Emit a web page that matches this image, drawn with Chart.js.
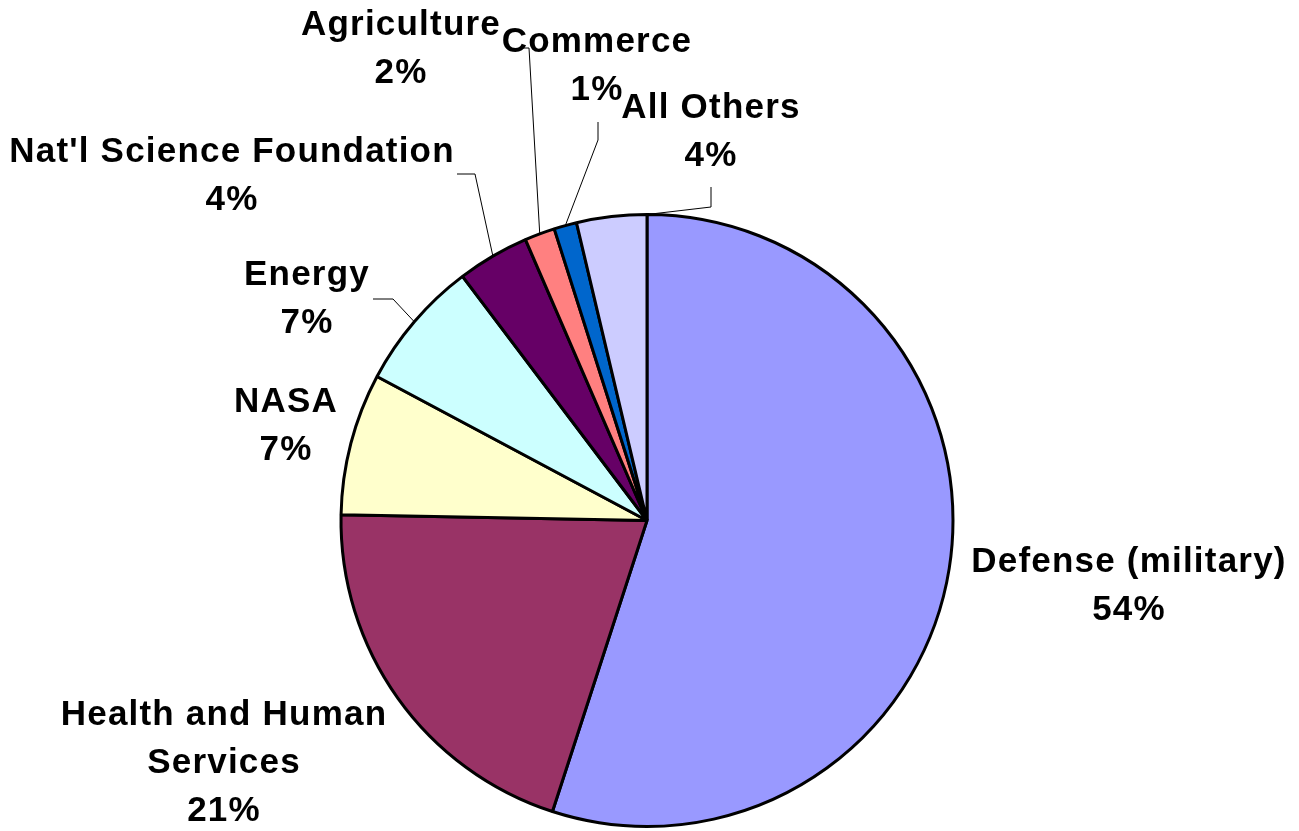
<!DOCTYPE html>
<html>
<head>
<meta charset="utf-8">
<title>Federal R&D by agency</title>
<script src="https://cdn.jsdelivr.net/npm/chart.js"></script>
<style>
  html,body{margin:0;padding:0;background:#fff;}
  #wrap{width:1299px;height:831px;}
</style>
</head>
<body>
<div id="wrap"><canvas id="pie" width="1299" height="831"></canvas></div>
<script>
// data (clockwise from 12 o'clock)
const agencies = ['Defense (military)', ['Health and Human', 'Services'], 'NASA', 'Energy',
  "Nat'l Science Foundation", 'Agriculture', 'Commerce', 'All Others'];
const shares = [55.0, 20.3, 7.5, 6.9, 3.8, 1.6, 1.2, 3.7];
const pctText = ['54%', '21%', '7%', '7%', '4%', '2%', '1%', '4%'];
const sliceColors = ['#9999FF', '#993366', '#FFFFCC', '#CCFFFF', '#660066', '#FF8080', '#0066CC', '#CCCCFF'];

// label layout: centre x and first baseline y, plus optional leader elbow
const labelAt = [[1129, 572], [224, 725], [286, 412], [307, 285], [232, 162], [401, 35], [597, 52], [711, 118]];
const leaders = [null, null, null,
  {pts: [[373, 299], [393, 299]], at: 0.5},
  {pts: [[457, 174], [475, 174]], at: 0.5},
  {pts: [[520, 48], [529, 48]], at: 0.5},
  {pts: [[598, 122], [598, 140]], at: 0.5},
  {pts: [[711, 187], [711, 207]], at: 1.0}];

const labelPlugin = {
  id: 'sliceLabels',
  afterDraw(chart){
    const ctx = chart.ctx;
    const arcs = chart.getDatasetMeta(0).data;
    ctx.save();
    // leader lines
    ctx.strokeStyle = '#000'; ctx.lineWidth = 1;
    arcs.forEach((arc, i)=>{
      const ld = leaders[i]; if(!ld) return;
      const p = arc.getProps(['x','y','startAngle','endAngle','outerRadius'], true);
      const a = p.startAngle + (p.endAngle - p.startAngle) * ld.at;
      ctx.beginPath();
      ctx.moveTo(ld.pts[0][0], ld.pts[0][1]);
      ld.pts.slice(1).forEach(q=>ctx.lineTo(q[0], q[1]));
      ctx.lineTo(p.x + Math.cos(a) * p.outerRadius, p.y + Math.sin(a) * p.outerRadius);
      ctx.stroke();
    });
    // texts
    ctx.fillStyle = '#000';
    ctx.font = 'bold 35px "Liberation Sans", Arial, sans-serif';
    if('letterSpacing' in ctx) ctx.letterSpacing = '1.2px';
    ctx.textAlign = 'center'; ctx.textBaseline = 'alphabetic';
    agencies.forEach((name, i)=>{
      const lines = [].concat(name, pctText[i]);
      const [cx, cy] = labelAt[i];
      lines.forEach((t, k)=>ctx.fillText(t, cx, cy + k * 48));
    });
    ctx.restore();
  }
};

new Chart(document.getElementById('pie'), {
  type: 'pie',
  data: {
    labels: agencies,
    datasets: [{data: shares, backgroundColor: sliceColors, borderColor: '#000', borderWidth: 3}]
  },
  options: {
    responsive: false,
    animation: false,
    layout: {padding: {left: 0, right: 5, top: 213, bottom: 3}},
    plugins: {legend: {display: false}, tooltip: {enabled: false}}
  },
  plugins: [labelPlugin]
});
</script>
</body>
</html>
